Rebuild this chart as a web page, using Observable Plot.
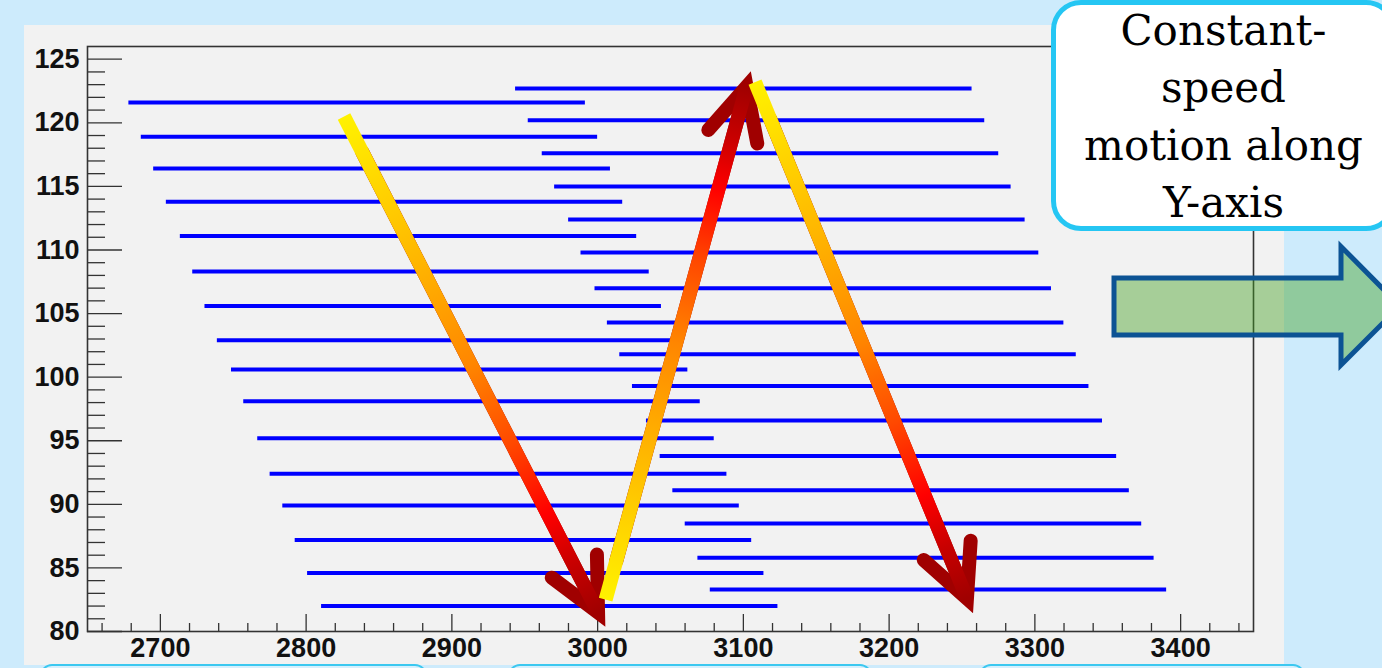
<!DOCTYPE html>
<html>
<head>
<meta charset="utf-8">
<script src="https://cdn.jsdelivr.net/npm/d3@7"></script>
<script src="https://cdn.jsdelivr.net/npm/@observablehq/plot@0.6"></script>
<style>
  html, body { margin: 0; padding: 0; }
  body { width: 1382px; height: 668px; background: #cdebfc; position: relative; overflow: hidden; }
  #panel { position: absolute; left: 24px; top: 25px; width: 1260px; height: 640px; background: #f2f2f2; }
  #callout { position: absolute; left: 1051px; top: 0px; width: 345px; height: 231px; box-sizing: border-box;
    background: #ffffff; border: 5px solid #25c6f3; border-radius: 30px; }
  #calloutText { position: absolute; left: 1051px; top: 2px; width: 345px; text-align: center;
    font-family: "DejaVu Serif", serif; font-size: 42px; line-height: 57.4px; color: #000; }
  .bottomBox { position: absolute; top: 664px; height: 40px; box-sizing: border-box; border: 2.5px solid #3cc8f0;
    border-radius: 12px; background: #d6f0fd; }
  #greenArrow { position: absolute; left: 0; top: 0; }
</style>
</head>
<body>
<div id="panel"></div>
<div class="bottomBox" style="left:40px;width:387px"></div>
<div class="bottomBox" style="left:508px;width:364px"></div>
<div class="bottomBox" style="left:979px;width:326px"></div>
<script>
// ---- data ----
const leftY  = [121.6, 118.9, 116.4, 113.8, 111.1, 108.3, 105.6, 102.9, 100.6, 98.1, 95.2, 92.4, 89.9, 87.2, 84.6, 82.0];
const leftX1 = [2678.4, 2686.9, 2695.4, 2704.1, 2713.7, 2722.2, 2730.6, 2739.1, 2748.8, 2757.2, 2766.8, 2775.3, 2784.0, 2792.5, 2801.0, 2810.6];
const leftX2 = [2991.6, 3000.0, 3008.8, 3017.2, 3026.8, 3035.4, 3043.8, 3052.1, 3061.9, 3070.4, 3080.0, 3088.7, 3097.2, 3105.7, 3114.1, 3123.7];

const rightY  = [122.7, 120.2, 117.6, 115.0, 112.4, 109.8, 107.0, 104.3, 101.8, 99.3, 96.6, 93.8, 91.1, 88.5, 85.8, 83.3];
const rightX1 = [2943.7, 2952.4, 2962.0, 2970.5, 2980.1, 2988.6, 2998.2, 3006.7, 3015.2, 3023.9, 3033.5, 3042.9, 3051.6, 3060.1, 3068.8, 3077.3];
const rightX2 = [3256.9, 3265.6, 3275.2, 3283.7, 3293.3, 3302.7, 3311.4, 3319.9, 3328.4, 3337.1, 3346.4, 3356.1, 3364.8, 3373.3, 3381.8, 3390.4];

const arrowX1 = [2826.0, 3005.5, 3108.0];
const arrowY1 = [120.5, 82.5, 123.2];
const arrowX2 = [3000.3, 3102.2, 3253.4];
const arrowY2 = [81.5, 122.85, 82.6];

const xMajor = [2700, 2800, 2900, 3000, 3100, 3200, 3300, 3400];
const yMajor = [80, 85, 90, 95, 100, 105, 110, 115, 120, 125];
const xMinor = d3.range(2660, 3450, 20).filter(v => v % 100 !== 0);
const yMinor = d3.range(81, 126, 1).filter(v => v % 5 !== 0);

const calloutLines = ["Constant-", "speed", "motion along", "Y-axis"];

const gradStops = [
  [0, "#fff200"], [0.3, "#ffb400"], [0.5, "#ff8600"], [0.66, "#ff4800"],
  [0.8, "#ff0000"], [0.9, "#c80000"], [1, "#a00000"]
];

// ---- tables ----
const segments = [
  ...leftY.map((y, i) => ({y, x1: leftX1[i], x2: leftX2[i]})),
  ...rightY.map((y, i) => ({y, x1: rightX1[i], x2: rightX2[i]}))
];
const arrows = arrowX1.map((x1, i) => ({x1, y1: arrowY1[i], x2: arrowX2[i], y2: arrowY2[i]}));

const W = 1260, H = 640, mL = 63, mT = 21, mR = 31, mB = 34;
const frameW = W - mL - mR, frameH = H - mT - mB;

const arrowMarks = [];
arrows.forEach((a, i) => {
  arrowMarks.push(Plot.arrow([a], {
    x1: "x1", y1: "y1", x2: "x2", y2: "y2",
    stroke: "#a00000", strokeWidth: 14, headLength: 6.2, headAngle: 52,
    insetStart: 40, strokeLinecap: "round", strokeLinejoin: "miter", strokeMiterlimit: 4
  }));
  arrowMarks.push(Plot.link([a], {
    x1: "x1", y1: "y1", x2: "x2", y2: "y2",
    stroke: `url(#arrowGrad${i})`, strokeWidth: 14, strokeLinecap: "butt"
  }));
});

const chart = Plot.plot({
  width: W, height: H,
  marginLeft: mL, marginTop: mT, marginRight: mR, marginBottom: mB,
  x: {domain: [2650, 3450]},
  y: {domain: [80, 126]},
  style: {background: "transparent", color: "#111", fontFamily: "'Liberation Sans', Arial, sans-serif"},
  marks: [
    Plot.ruleX(xMinor, {x: d => d, insetTop: frameH - 8, stroke: "#333", strokeWidth: 1.3}),
    Plot.ruleX(xMajor, {x: d => d, insetTop: frameH - 17, stroke: "#333", strokeWidth: 1.3}),
    Plot.ruleY(yMinor, {y: d => d, insetRight: frameW - 18, stroke: "#333", strokeWidth: 1.3}),
    Plot.ruleY(yMajor, {y: d => d, insetRight: frameW - 35, stroke: "#333", strokeWidth: 1.3}),
    Plot.frame({stroke: "#333", strokeWidth: 1.6}),
    Plot.axisX({ticks: xMajor, tickSize: 0, tickPadding: 6, tickFormat: d => String(d),
      fontSize: 27, fontWeight: "bold", label: null}),
    Plot.axisY({ticks: yMajor, tickSize: 0, tickPadding: 8, tickFormat: d => String(d),
      fontSize: 27, fontWeight: "bold", label: null}),
    Plot.ruleY(segments, {y: "y", x1: "x1", x2: "x2", stroke: "#0000ff", strokeWidth: 4}),
    ...arrowMarks
  ]
});

const svg = chart.tagName.toLowerCase() === "svg" ? chart : chart.querySelector("svg");
const sx = chart.scale("x"), sy = chart.scale("y");
const defs = d3.select(svg).insert("defs", ":first-child");
arrows.forEach((a, i) => {
  const g = defs.append("linearGradient")
    .attr("id", `arrowGrad${i}`)
    .attr("gradientUnits", "userSpaceOnUse")
    .attr("x1", sx.apply(a.x1)).attr("y1", sy.apply(a.y1))
    .attr("x2", sx.apply(a.x2)).attr("y2", sy.apply(a.y2));
  gradStops.forEach(([o, c]) => g.append("stop").attr("offset", o).attr("stop-color", c));
});

const panel = document.getElementById("panel");
chart.style.position = "absolute";
chart.style.left = "0px";
chart.style.top = "0px";
panel.appendChild(chart);

// green arrow overlay
const ga = d3.select("body").append("svg").attr("id", "greenArrow")
  .attr("width", 1382).attr("height", 668);
ga.append("polygon")
  .attr("points", "1114,278 1341,278 1341,246.5 1400,306 1341,365 1341,335 1114,335")
  .attr("fill", "rgba(66,157,32,0.43)")
  .attr("stroke", "#0c5394").attr("stroke-width", 5).attr("stroke-linejoin", "miter");

// callout
const callout = document.createElement("div");
callout.id = "callout";
document.body.appendChild(callout);
const ct = document.createElement("div");
ct.id = "calloutText";
ct.innerHTML = calloutLines.join("<br>");
document.body.appendChild(ct);
</script>
</body>
</html>
